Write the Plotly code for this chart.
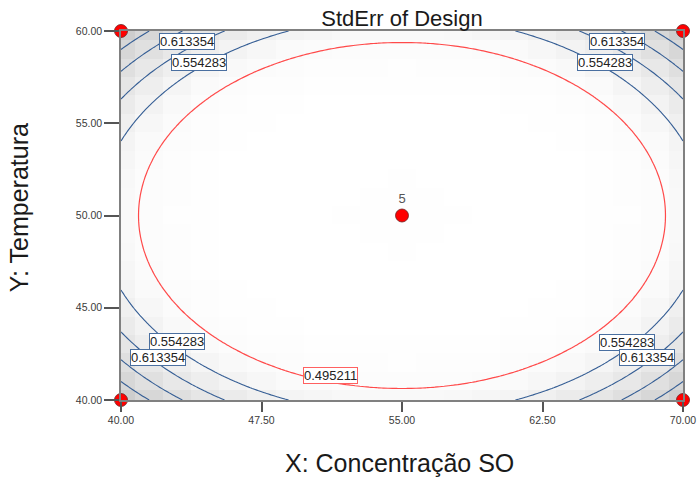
import numpy as np
import plotly.graph_objects as go

# ---------------- data ----------------
x_points = [40, 70, 40, 70, 55]          # design points shown (X: Concentração SO)
y_points = [40, 40, 60, 60, 50]          # design points shown (Y: Temperatura)
point_labels = ["", "", "", "", "5"]     # replicate count at centre
center_reps = 5
axial_alpha = 1.414                      # rotatable CCD (axial points lie outside plotted range)

x_range = [40, 70]
y_range = [40, 60]
x_tick_vals = [40, 47.5, 55, 62.5, 70]
x_tick_text = ["40.00", "47.50", "55.00", "62.50", "70.00"]
y_tick_vals = [40, 45, 50, 55, 60]
y_tick_text = ["40.00", "45.00", "50.00", "55.00", "60.00"]

red_level = 0.495211
blue_levels = [0.554283, 0.613354, 0.672425, 0.731496]

label_texts = ["0.613354", "0.554283", "0.613354", "0.554283",
               "0.554283", "0.613354", "0.495211", "0.554283", "0.613354"]
label_x = [43.52, 44.16, 66.48, 65.84, 42.99, 41.98, 51.16, 67.01, 68.08]
label_y = [59.43, 58.32, 59.43, 58.32, 43.17, 42.33, 41.35, 43.09, 42.30]
label_is_red = [False, False, False, False, False, False, True, False, False]

# ---------------- standard error of design ----------------
def coded(x, y):
    return (np.asarray(x) - 55.0) / 15.0, (np.asarray(y) - 50.0) / 10.0

fa = [-1, 1, -1, 1]
fb = [-1, -1, 1, 1]
design_a = fa + [-axial_alpha, axial_alpha, 0, 0] + [0] * center_reps
design_b = fb + [0, 0, -axial_alpha, axial_alpha] + [0] * center_reps

def model_rows(a, b):
    a = np.asarray(a, float); b = np.asarray(b, float)
    return np.stack([np.ones_like(a), a, b, a * b, a * a, b * b], axis=-1)

X = model_rows(design_a, design_b)
XtX_inv = np.linalg.inv(X.T @ X)

def stderr(xg, yg):
    a, b = coded(xg, yg)
    F = model_rows(a, b)
    return np.sqrt(np.einsum("...i,ij,...j->...", F, XtX_inv, F))

# coarse grid for the shaded background, fine grid for contour lines
xc = np.linspace(x_range[0], x_range[1], 21)
yc = np.linspace(y_range[0], y_range[1], 21)
XC, YC = np.meshgrid(xc, yc)
ZC = stderr(XC, YC)

xf = np.linspace(x_range[0], x_range[1], 121)
yf = np.linspace(y_range[0], y_range[1], 121)
XF, YF = np.meshgrid(xf, yf)
ZF = stderr(XF, YF)

fig = go.Figure()

fig.add_trace(go.Heatmap(
    x=xc, y=yc, z=ZC, zsmooth=False,
    colorscale=[[0, "#ffffff"], [0.22, "#fafafa"], [1, "#cdcdcd"]],
    showscale=False, hoverinfo="skip"))

fig.add_trace(go.Contour(
    x=xf, y=yf, z=ZF, autocontour=False,
    contours=dict(start=blue_levels[0], end=blue_levels[-1],
                  size=blue_levels[1] - blue_levels[0], coloring="none"),
    line=dict(color="#345d94", width=1.1, smoothing=1),
    showscale=False, hoverinfo="skip"))

fig.add_trace(go.Contour(
    x=xf, y=yf, z=ZF, autocontour=False,
    contours=dict(start=red_level, end=red_level, size=1, coloring="none"),
    line=dict(color="#ff4a4a", width=1.2, smoothing=1),
    showscale=False, hoverinfo="skip"))

# design points with the centre replicate label
fig.add_trace(go.Scatter(
    x=x_points, y=y_points, mode="markers+text", text=point_labels,
    textposition="top center",
    textfont=dict(size=13, color="#555555", family="Liberation Sans"),
    marker=dict(symbol="circle", size=13, color="#ff0000",
                line=dict(color="#6b2020", width=0.8)),
    cliponaxis=False, hoverinfo="skip", showlegend=False))

annotations = []
for t, lx, ly, red in zip(label_texts, label_x, label_y, label_is_red):
    annotations.append(dict(x=lx, y=ly, xref="x", yref="y", text=t, showarrow=False,
                            font=dict(size=13, color="#222222", family="Liberation Sans"),
                            bgcolor="#ffffff", bordercolor="#ff6060" if red else "#4a6fa0",
                            borderwidth=1, borderpad=0))

annotations.append(dict(text="X: Concentração SO", xref="paper", yref="paper",
                        x=0.496, y=-0.171, showarrow=False, xanchor="center", yanchor="middle",
                        font=dict(size=25, color="#1a1a1a", family="Liberation Sans")))
annotations.append(dict(text="Y: Temperatura", xref="paper", yref="paper",
                        x=-0.18, y=0.522, showarrow=False, textangle=-90,
                        xanchor="center", yanchor="middle",
                        font=dict(size=25, color="#1a1a1a", family="Liberation Sans")))

axis_common = dict(showgrid=False, zeroline=False, showline=True, mirror=True, automargin=False,
                   linecolor="#808080", linewidth=1.5, ticks="outside", tickcolor="#555555",
                   tickwidth=1.5, tickfont=dict(size=10.5, color="#3a3a3a", family="Liberation Sans"))

fig.update_layout(
    width=697, height=479,
    margin=dict(l=121, r=14, t=31, b=79, autoexpand=False),
    paper_bgcolor="white", plot_bgcolor="white",
    title=dict(text="StdErr of Design", x=0.5, xref="paper", xanchor="center",
               y=1 - 18 / 479, yref="container", yanchor="middle", automargin=False,
               font=dict(size=22, color="#1a1a1a", family="Liberation Sans")),
    xaxis=dict(range=x_range, tickvals=x_tick_vals, ticktext=x_tick_text, ticklen=10, **axis_common),
    yaxis=dict(range=y_range, tickvals=y_tick_vals, ticktext=y_tick_text, ticklen=15, **axis_common),
    annotations=annotations, showlegend=False)

fig.write_html("out.html", config={"displayModeBar": False},
               post_script="document.body.style.margin='0';document.body.style.overflow='hidden';")
